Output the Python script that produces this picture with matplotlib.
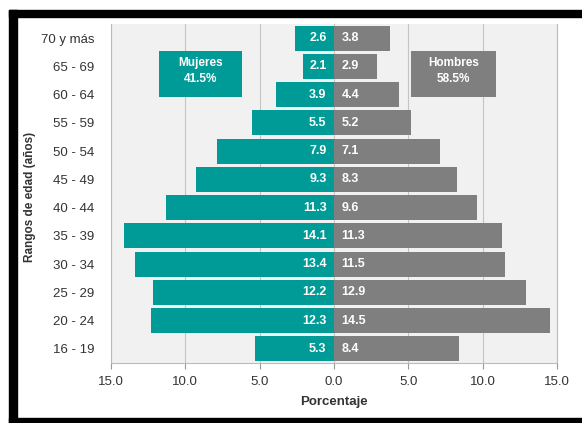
import matplotlib.pyplot as plt
from matplotlib.patches import Rectangle
from matplotlib.ticker import FuncFormatter
import numpy as np

plt.rcParams['font.family'] = ['Liberation Sans', 'DejaVu Sans']

# Data (top to bottom as in the chart)
age_groups = ['70 y más', '65 - 69', '60 - 64', '55 - 59', '50 - 54', '45 - 49',
              '40 - 44', '35 - 39', '30 - 34', '25 - 29', '20 - 24', '16 - 19']
mujeres = [2.6, 2.1, 3.9, 5.5, 7.9, 9.3, 11.3, 14.1, 13.4, 12.2, 12.3, 5.3]
hombres = [3.8, 2.9, 4.4, 5.2, 7.1, 8.3, 9.6, 11.3, 11.5, 12.9, 14.5, 8.4]
total_mujeres = '41.5%'
total_hombres = '58.5%'

teal = '#009b96'
gray = '#7f7f7f'
txt = '#333333'

fig = plt.figure(figsize=(5.82, 4.23), dpi=100)
ax = fig.add_axes([0.1907, 0.1418, 0.7663, 0.8015])
ax.set_facecolor('#f1f1f1')

y = np.arange(len(age_groups))[::-1]
ax.barh(y, [-m for m in mujeres], height=0.88, color=teal, zorder=3)
ax.barh(y, hombres, height=0.88, color=gray, zorder=3)

for yi, m, h in zip(y, mujeres, hombres):
    ax.text(-0.5, yi, f'{m:.1f}', ha='right', va='center', color='white',
            fontsize=9, fontweight='bold', zorder=4)
    ax.text(0.5, yi, f'{h:.1f}', ha='left', va='center', color='white',
            fontsize=9, fontweight='bold', zorder=4)

# Total boxes
for x0, x1, col, label in [(-11.8, -6.2, teal, f'Mujeres\n{total_mujeres}'),
                           (5.2, 10.9, gray, f'Hombres\n{total_hombres}')]:
    ax.add_patch(Rectangle((x0, 8.91), x1 - x0, 1.63, facecolor=col,
                           edgecolor='none', zorder=5))
    ax.text((x0 + x1) / 2, 9.85, label, ha='center', va='center', color='white',
            fontsize=8.5, fontweight='bold', zorder=6, linespacing=1.45)

ax.set_xlim(-15, 15)
ax.set_ylim(-0.5, len(age_groups) - 0.5)
ax.set_xticks([-15, -10, -5, 0, 5, 10, 15])
ax.xaxis.set_major_formatter(FuncFormatter(lambda v, p: f'{abs(v):.1f}'))
ax.set_yticks(y)
ax.set_yticklabels(age_groups)
ax.tick_params(axis='y', length=0, pad=12, labelsize=9.5, labelcolor=txt)
ax.tick_params(axis='x', length=4, width=0.8, color='#999999', labelsize=9.5,
               labelcolor=txt, pad=5)
ax.grid(axis='x', color='#c4c4c4', linewidth=0.8, zorder=1)

ax.spines['top'].set_visible(False)
for side in ['left', 'bottom', 'right']:
    ax.spines[side].set_color('#bbbbbb')
    ax.spines[side].set_linewidth(0.8)

ax.set_xlabel('Porcentaje', fontsize=9.5, fontweight='bold', color=txt, labelpad=6)
ax.set_ylabel('Rangos de edad (años)', fontsize=8.5, fontweight='bold', color=txt)
ax.yaxis.set_label_coords(-0.168, 0.49)

# Black frame around the image
W, H = 582, 423
fig.patches.append(Rectangle((9 / W, 1 - 17 / H), 1 - 9 / W, 7 / H,
                             transform=fig.transFigure, color='black'))
fig.patches.append(Rectangle((9 / W, 0), 8 / W, 1 - 10 / H,
                             transform=fig.transFigure, color='black'))
fig.patches.append(Rectangle((9 / W, 0), 1 - 9 / W, 5 / H,
                             transform=fig.transFigure, color='black'))

fig.savefig('out.png', dpi=100)
